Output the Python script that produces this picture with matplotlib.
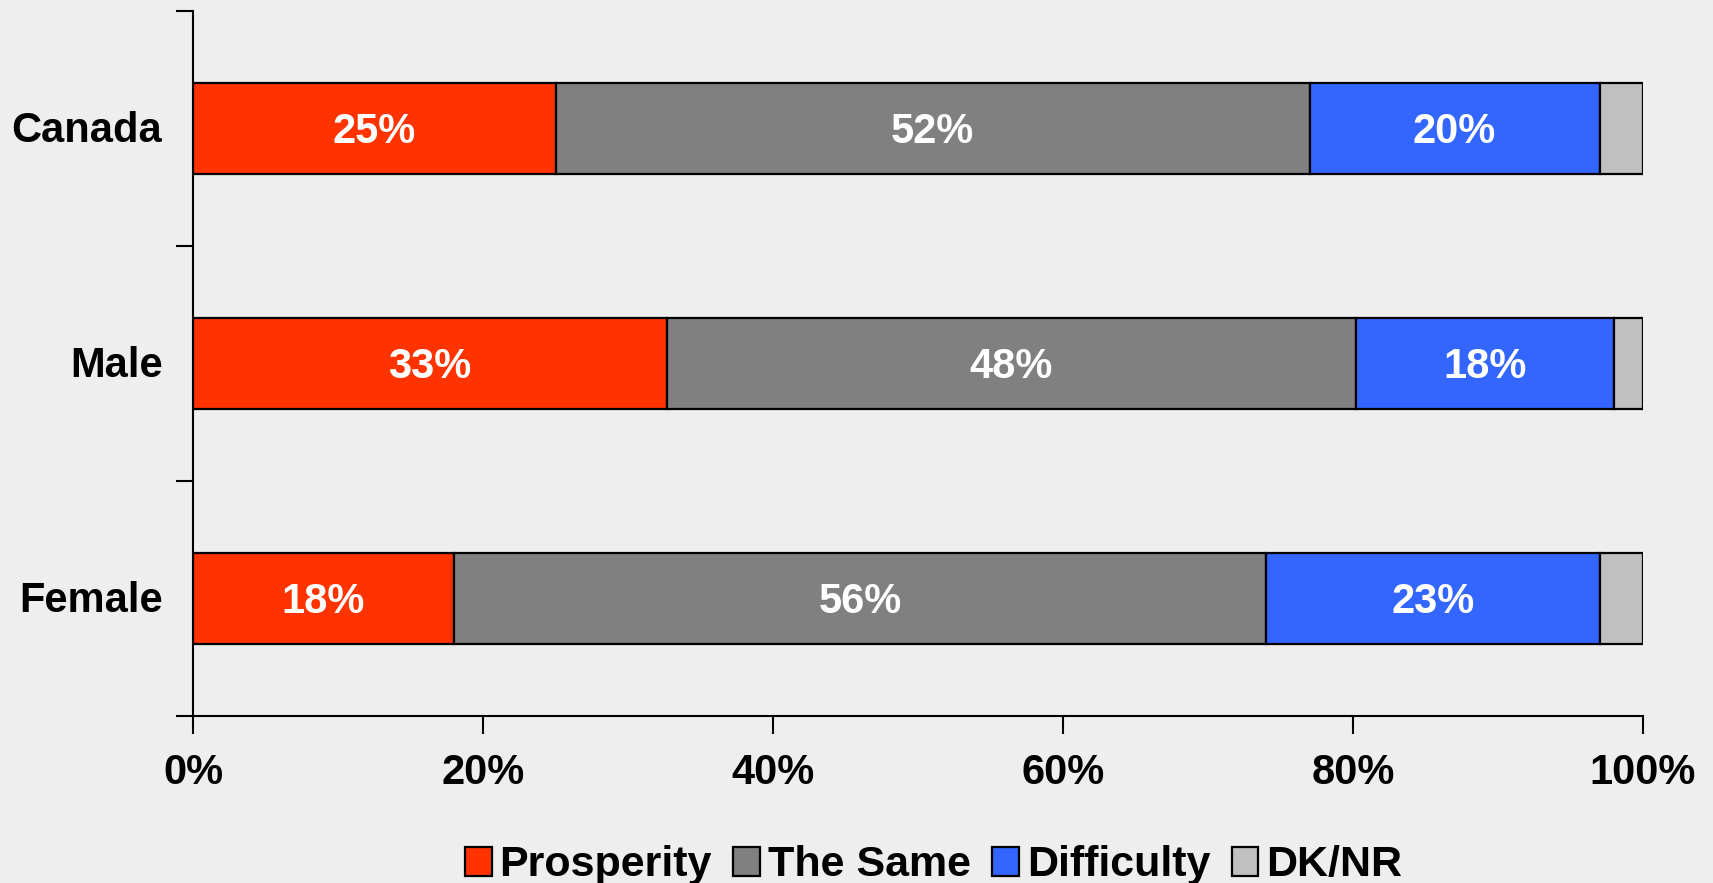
import matplotlib
matplotlib.use("Agg")
import matplotlib.pyplot as plt
from matplotlib.ticker import FixedLocator, FuncFormatter

categories = ["Canada", "Male", "Female"]
series_names = ["Prosperity", "The Same", "Difficulty", "DK/NR"]
prosperity = [25.0, 32.7, 18.0]
the_same = [52.0, 47.5, 56.0]
difficulty = [20.0, 17.8, 23.0]
dknr = [3.0, 2.0, 3.0]
value_labels = [["25%", "52%", "20%", ""],
                ["33%", "48%", "18%", ""],
                ["18%", "56%", "23%", ""]]
x_ticks = [0, 20, 40, 60, 80, 100]

colors = ["#FF3300", "#808080", "#3366FF", "#C0C0C0"]
bg = "#EEEEEE"

plt.rcParams['font.family'] = ['Liberation Sans', 'DejaVu Sans']
plt.rcParams['font.weight'] = 'bold'

fig = plt.figure(figsize=(17.13, 8.83), dpi=100, facecolor=bg)
ax = fig.add_axes([193/1713, (883-716)/883, (1643-193)/1713, (716-11)/883])
ax.set_facecolor(bg)

ypos = [2.5, 1.5, 0.5]
series = [prosperity, the_same, difficulty, dknr]
left = [0.0, 0.0, 0.0]
for si, (vals, col, name) in enumerate(zip(series, colors, series_names)):
    bars = ax.barh(ypos, vals, left=left, height=0.39, color=col,
                   edgecolor="black", linewidth=1.6, label=name)
    for ci, b in enumerate(bars):
        lab = value_labels[ci][si]
        if lab:
            ax.text(left[ci] + vals[ci] / 2, ypos[ci] - 0.015, lab, ha="center", va="center",
                    color="white", fontsize=30, fontweight="bold")
    left = [l + v for l, v in zip(left, vals)]

ax.set_xlim(0, 100)
ax.set_ylim(0, 3)
ax.xaxis.set_major_locator(FixedLocator(x_ticks))
ax.xaxis.set_major_formatter(FuncFormatter(lambda v, p: f"{int(v)}%"))
ax.tick_params(axis="x", length=13, width=1.5, pad=14, labelsize=30, direction="out")

ax.yaxis.set_major_locator(FixedLocator([0, 1, 2, 3]))
ax.yaxis.set_major_formatter(FuncFormatter(lambda v, p: ""))
ax.yaxis.set_minor_locator(FixedLocator([y + 0.01 for y in ypos]))
ax.set_yticklabels(categories, minor=True)
ax.tick_params(axis="y", which="major", length=12, width=1.5, direction="out")
ax.tick_params(axis="y", which="minor", length=0, pad=22, labelsize=30)

for s in ["top", "right"]:
    ax.spines[s].set_visible(False)
for s in ["left", "bottom"]:
    ax.spines[s].set_linewidth(1.5)

leg = fig.legend(loc="center", bbox_to_anchor=(0.545, 0.02), ncol=4, frameon=False,
                 fontsize=31, handlelength=0.62, handleheight=0.66,
                 handletextpad=0.18, columnspacing=0.5, borderaxespad=0)
for t in leg.get_texts():
    t.set_fontweight("bold")

fig.savefig("out.png", dpi=100, facecolor=bg)
